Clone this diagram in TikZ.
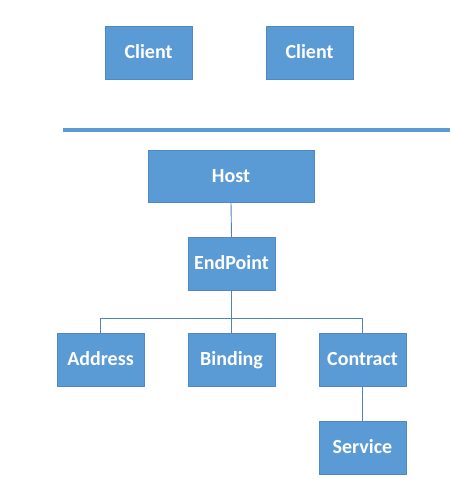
\documentclass[tikz,border=0pt]{standalone}
\usepackage{fontspec}
\setmainfont{Carlito}
\usepackage{xcolor}
\definecolor{boxblue}{RGB}{91,155,213}
\definecolor{boxedge}{RGB}{79,137,197}
\definecolor{wireblue}{RGB}{80,130,190}
\usetikzlibrary{positioning,calc}
\tikzset{
  wbox/.style={draw=boxedge, fill=boxblue, font=\fontsize{20}{22}\selectfont\bfseries,
               text=white, minimum width=#1, minimum height=53pt, inner sep=0pt,
               text height=12.9pt, text depth=0pt},
  wbox/.default=87pt,
  wire/.style={draw=wireblue, line width=0.9pt},
}

\begin{document}
\begin{tikzpicture}[x=1pt, y=-1pt]
  \useasboundingbox[fill=white] (0,0) rectangle (452,482);
  % Clients
  \node[wbox] (client1) at (148.5,52.5) {Client};
  \node[wbox] (client2) at (309.5,52.5) {Client};
  % Separator
  \coordinate (sepL) at (63,130);
  \coordinate (sepR) at (450,130);
  \draw[boxblue, line width=3.5pt] (sepL) -- (sepR);
  % Host side
  \node[wbox=166pt, minimum height=52pt] (host) at (231,176) {Host};
  \node[wbox] (endpoint) at (231.5,263.5) {EndPoint};
  \node[wbox] (address) at (100.5,359.5) {Address};
  \node[wbox] (binding) at (231.5,359.5) {Binding};
  \node[wbox] (contract) at (362.5,359.5) {Contract};
  \node[wbox] (service) at (362.5,447.5) {Service};

  % Connectors
  \draw[wire] (host.south) -- (endpoint.north);
  \coordinate (split) at ($(endpoint.south)+(0,28)$);
  \draw[wire] (endpoint.south) -- (split) -- (binding.north);
  \draw[wire] (address.north) |- (split) -| (contract.north);
  \draw[wire] (contract.south) -- (service.north);
\end{tikzpicture}
\end{document}
